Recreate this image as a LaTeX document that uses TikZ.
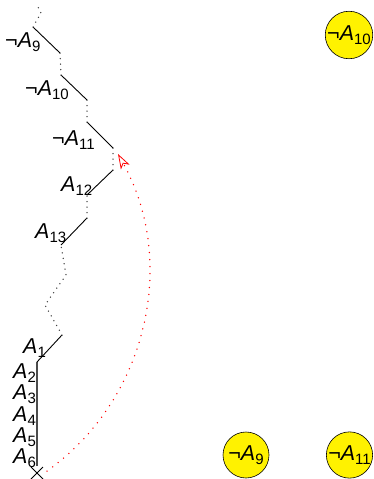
\documentclass[tikz,border=0pt]{standalone}
\usepackage{fontspec}
\setmainfont{Liberation Sans}
\usetikzlibrary{arrows.meta}
\newcommand\lit[1]{\textit{A}\raisebox{-4pt}{\fontsize{15}{15}\selectfont #1}}
\newcommand\nlit[1]{¬\lit{#1}}
\begin{document}
\begin{tikzpicture}[x=1pt,y=-1pt,
  lab/.style={inner sep=0pt, anchor=base west, font=\fontsize{21.5}{21.5}\selectfont},
  solidseg/.style={line width=0.9pt},
  dotseg/.style={line width=1.5pt, dash pattern=on 0pt off 5.5pt, line cap=round, black!75},
  lcirc/.style={circle, draw, line width=0.6pt, fill=yellow, minimum size=46pt, inner sep=0pt, font=\fontsize{21.5}{21.5}\selectfont},
  confl/.style={red, line width=1.5pt, dash pattern=on 0pt off 7pt, line cap=round,
    -{Stealth[open, length=15pt, width=10pt, inset=4pt, line width=0.8pt]}}]
\useasboundingbox (0,0) rectangle (373,479);
% vertices of the trail
\coordinate (x)   at (37,473);
\coordinate (v6)  at (37,466);
\coordinate (v1)  at (37,362);
\coordinate (w1)  at (62,335);
\coordinate (z1)  at (45,305);
\coordinate (z2)  at (66,275);
\coordinate (w13) at (61,245);
\coordinate (e13) at (87,218);
\coordinate (w12) at (87,195);
\coordinate (e12) at (113,170);
\coordinate (w11) at (113,148);
\coordinate (e11) at (87,122);
\coordinate (w10) at (87,100);
\coordinate (e10) at (61,75);
\coordinate (w9)  at (60,53);
\coordinate (e9)  at (33,27);
\coordinate (t1)  at (41,13);
\coordinate (t2)  at (37,5);
\coordinate (tip) at (118,154);
% segments
\draw[solidseg, black!70, line width=1.3pt] (v6) -- (v1);
\draw[solidseg] (v1) -- (w1);
\draw[dotseg] (w1) -- (z1) -- (z2) -- (w13);
\draw[solidseg] (w13) -- (e13);
\draw[dotseg] (e13) -- (w12);
\draw[solidseg] (w12) -- (e12);
\draw[dotseg] (e12) -- (w11);
\draw[solidseg] (w11) -- (e11);
\draw[dotseg] (e11) -- (w10);
\draw[solidseg] (w10) -- (e10);
\draw[dotseg] (e10) -- (w9);
\draw[solidseg] (w9) -- (e9);
\draw[dotseg] (e9) -- (t1) -- (t2);
% conflict cross
\draw[line width=0.9pt] ([shift={(-6,-6)}]x) -- ([shift={(6,6)}]x)
                        ([shift={(-6,6)}]x) -- ([shift={(6,-6)}]x);
% labels
\node[lab] (l9)  at (5,47)   {\nlit{9}};
\node[lab] (l10) at (25,95)  {\nlit{10}};
\node[lab] (l11) at (52,145) {\nlit{11}};
\node[lab] (l12) at (61,191) {\lit{12}};
\node[lab] (l13) at (35,238) {\lit{13}};
\node[lab] (l1)  at (23,353) {\lit{1}};
\node[lab] (l2)  at (13,378) {\lit{2}};
\node[lab] (l3)  at (13,399.5) {\lit{3}};
\node[lab] (l4)  at (13,421) {\lit{4}};
\node[lab] (l5)  at (13,442) {\lit{5}};
\node[lab] (l6)  at (13,463) {\lit{6}};
% learned clause circles
\node[lcirc] (c10) at (349,35)  {\nlit{10}};
\node[lcirc] (c9)  at (246,455) {\nlit{9}};
\node[lcirc] (c11) at (349.5,455) {\nlit{11}};
% backjump arc
\draw[confl] ([shift={(10,-2)}]x) .. controls (147,400) and (178,262) .. (tip);
\end{tikzpicture}
\end{document}
